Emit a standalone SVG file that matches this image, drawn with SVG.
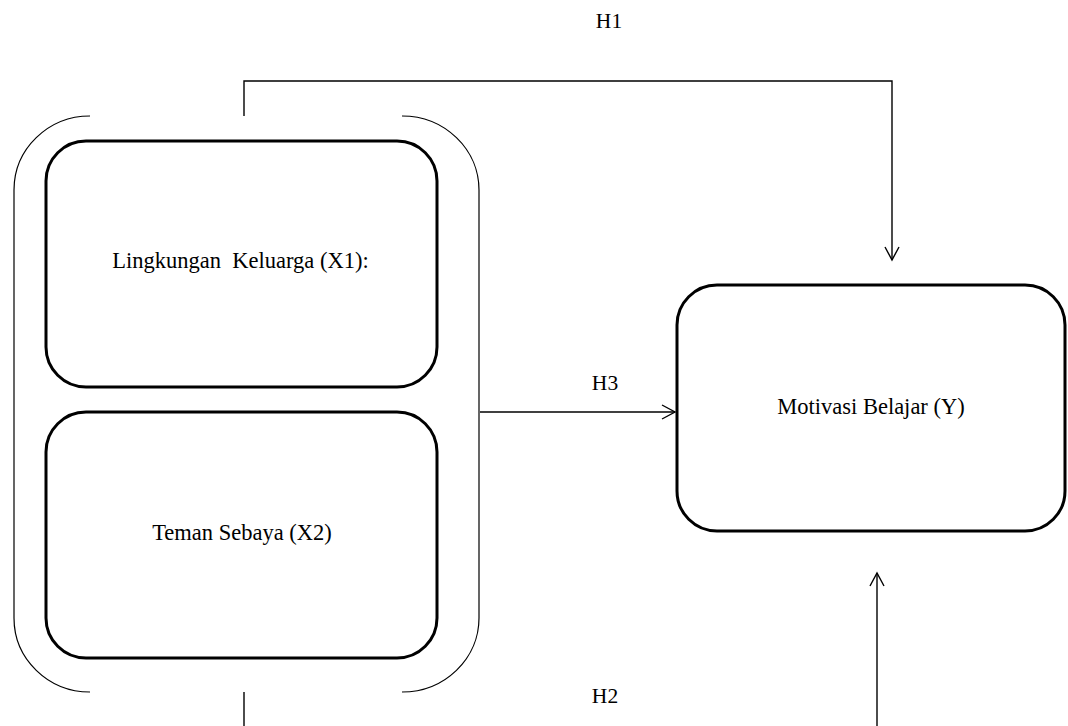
<svg xmlns="http://www.w3.org/2000/svg" width="1068" height="726" viewBox="0 0 1068 726">
<style>
.box{fill:none;stroke:#000;stroke-width:3}
.br{fill:none;stroke:#000;stroke-width:1.2}
.ln{fill:none;stroke:#000;stroke-width:1.4}
.ah{fill:none;stroke:#000;stroke-width:1.4}
text{font-family:"Liberation Serif","Times New Roman",serif;font-size:21.5px;fill:#000;text-anchor:middle}
.nt{font-size:22.5px}
</style>
<rect width="1068" height="726" fill="#fff"/>
<g id="bracket">
<path class="br" d="M90,116 A76,74 0 0 0 14,190 L14,618 A76,74 0 0 0 90,692"/>
<path class="br" d="M402,116 A77,74 0 0 1 479,190 L479,618 A77,74 0 0 1 402,692"/>
</g>
<g id="x1">
<rect class="box" x="46" y="141" width="391" height="246" rx="40" ry="40"/>
<text class="nt" x="240.5" y="268" xml:space="preserve">Lingkungan  Keluarga (X1):</text>
</g>
<g id="x2">
<rect class="box" x="46" y="412" width="391" height="246" rx="40" ry="40"/>
<text class="nt" x="242" y="540">Teman Sebaya (X2)</text>
</g>
<g id="y">
<rect class="box" x="677" y="285" width="388" height="246" rx="40" ry="40"/>
<text class="nt" x="871" y="414">Motivasi Belajar (Y)</text>
</g>
<g id="connectors">
<path class="ln" d="M244,116 L244,81 L892,81 L892,260"/>
<path class="ah" d="M885,247 L892,260 L899,247"/>
<path class="ln" d="M480,412 L675,412"/>
<path class="ah" d="M662,405 L675,412 L662,419"/>
<path class="ln" d="M244,692 L244,726"/>
<path class="ln" d="M877,726 L877,573"/>
<path class="ah" d="M870,586 L877,573 L884,586"/>
<text x="609" y="28">H1</text>
<text x="605" y="390">H3</text>
<text x="605" y="703">H2</text>
</g>
</svg>
